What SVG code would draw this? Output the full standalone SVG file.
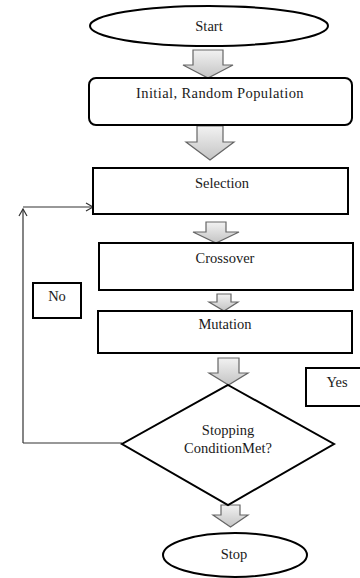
<svg xmlns="http://www.w3.org/2000/svg" width="360" height="578" viewBox="0 0 360 578">
  <style>
    .box { fill: #fff; stroke: #000; stroke-width: 2; }
    .lbl { font-family: "Liberation Serif", "Times New Roman", serif; font-size: 14.5px; fill: #1a1a1a; text-anchor: middle; }
    .wide { letter-spacing: 0.4px; }
    .blk { fill: url(#blkFill); stroke: #666; stroke-width: 1.2; stroke-linejoin: miter; }
    .wire { fill: none; stroke: #333; stroke-width: 1.2; }
  </style>
  <defs>
    <linearGradient id="blkFill" x1="0" y1="0" x2="0" y2="1">
      <stop offset="0" stop-color="#f2f2f2"/>
      <stop offset="1" stop-color="#c4c4c4"/>
    </linearGradient>
    <marker id="open" markerWidth="10" markerHeight="10" refX="8" refY="5" orient="auto" markerUnits="userSpaceOnUse">
      <path d="M1,1 L8,5 L1,9" fill="none" stroke="#333" stroke-width="1.2"/>
    </marker>
  </defs>

  <rect width="360" height="578" fill="#fff"/>

  <!-- flow arrows between steps -->
  <g id="connectors">
    <path class="blk" d="M193,50 H223 V65 H233 L208,78 L183,65 H193 Z"/>
    <path class="blk" d="M197,126 H223 V142 H234 L210,160 L186,142 H197 Z"/>
    <path class="blk" d="M206,222 H226 V232 H239 L216,243 L193,232 H206 Z"/>
    <path class="blk" d="M217,294 H231 V302 H238 L224,311 L209,302 H217 Z"/>
    <path class="blk" d="M218,358 H239 V373 H248 L228.5,385 L209,373 H218 Z"/>
    <path class="blk" d="M221,505 H240 V515 H248 L230.5,527 L213,515 H221 Z"/>
    <!-- "No" loop back to Selection -->
    <polyline class="wire" points="122,443 23,443"/>
    <line class="wire" x1="23" y1="443" x2="23" y2="209" marker-end="url(#open)"/>
    <line class="wire" x1="23" y1="207" x2="93" y2="207" marker-end="url(#open)"/>
  </g>

  <g id="start">
    <ellipse class="box" cx="209" cy="26" rx="119" ry="20"/>
    <text class="lbl" x="209" y="31">Start</text>
  </g>

  <g id="init">
    <rect class="box" x="89" y="78" width="263" height="47" rx="7"/>
    <text class="lbl wide" x="220" y="98">Initial, Random Population</text>
  </g>

  <g id="selection">
    <rect class="box" x="93" y="168" width="255" height="46"/>
    <text class="lbl" x="222" y="188">Selection</text>
  </g>

  <g id="crossover">
    <rect class="box" x="99" y="243" width="254" height="47"/>
    <text class="lbl" x="225" y="263">Crossover</text>
  </g>

  <g id="mutation">
    <rect class="box" x="98" y="311" width="254" height="42"/>
    <text class="lbl" x="225" y="329">Mutation</text>
  </g>

  <g id="no">
    <rect class="box" x="33" y="283" width="48" height="35"/>
    <text class="lbl" x="57" y="301">No</text>
  </g>

  <g id="yes">
    <rect class="box" x="306" y="368" width="56" height="38"/>
    <text class="lbl" x="337" y="387">Yes</text>
  </g>

  <g id="condition">
    <polygon class="box" points="228,385 334,444 228,505 122,444"/>
    <text class="lbl" x="228" y="435">Stopping</text>
    <text class="lbl" x="228" y="453">ConditionMet?</text>
  </g>

  <g id="stop">
    <ellipse class="box" cx="235" cy="555" rx="72" ry="22"/>
    <text class="lbl" x="234" y="559">Stop</text>
  </g>
</svg>
